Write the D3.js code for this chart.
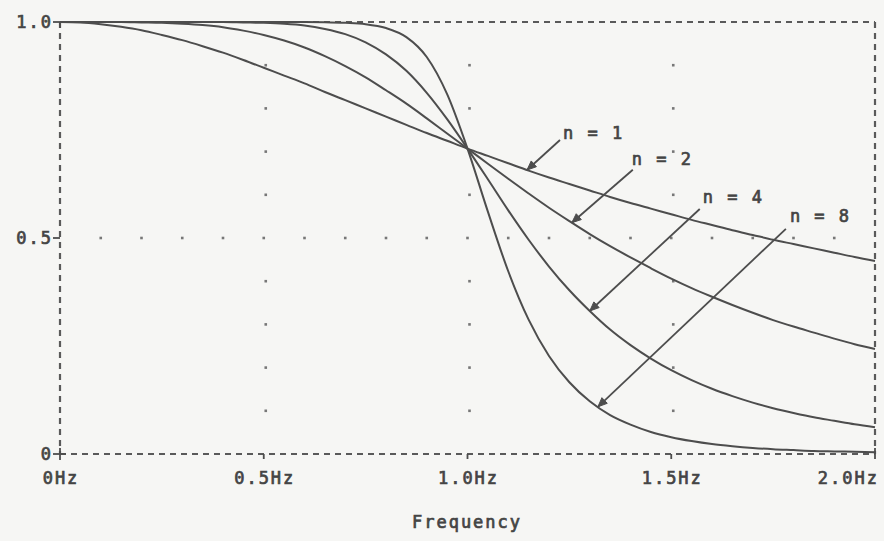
<!DOCTYPE html>
<html>
<head>
<meta charset="utf-8">
<script src="https://cdn.jsdelivr.net/npm/d3@7"></script>
<style>
  html, body { margin: 0; padding: 0; background: #f6f6f4; }
  svg { display: block; }
  text { font-family: "DejaVu Sans Mono", "Liberation Mono", monospace; fill: #444; }
</style>
</head>
<body>
<svg id="chart" width="884" height="541"></svg>
<script>
// Frequency samples (Hz)
const freqs = [0, 0.05, 0.1, 0.15, 0.2, 0.25, 0.3, 0.35, 0.4, 0.45, 0.5, 0.55, 0.6, 0.65, 0.7, 0.75, 0.8, 0.85, 0.9, 0.95,
  1.0, 1.05, 1.1, 1.15, 1.2, 1.25, 1.3, 1.35, 1.4, 1.45, 1.5, 1.55, 1.6, 1.65, 1.7, 1.75, 1.8, 1.85, 1.9, 1.95, 2.0];

// Magnitude response for each filter order
const gainN1 = [1, 0.999, 0.995, 0.989, 0.981, 0.970, 0.958, 0.944, 0.929, 0.912, 0.894, 0.876, 0.858, 0.838, 0.819, 0.800, 0.781, 0.762, 0.743, 0.725,
  0.707, 0.690, 0.673, 0.656, 0.640, 0.625, 0.610, 0.595, 0.581, 0.568, 0.555, 0.542, 0.530, 0.518, 0.507, 0.496, 0.486, 0.476, 0.466, 0.456, 0.447];
const gainN2 = [1, 1, 1, 1, 0.999, 0.998, 0.996, 0.993, 0.988, 0.980, 0.970, 0.957, 0.941, 0.921, 0.898, 0.872, 0.842, 0.811, 0.777, 0.742,
  0.707, 0.672, 0.637, 0.603, 0.570, 0.539, 0.509, 0.481, 0.455, 0.430, 0.406, 0.384, 0.364, 0.345, 0.327, 0.310, 0.295, 0.281, 0.267, 0.254, 0.243];
const gainN4 = [1, 1, 1, 1, 1, 1, 1, 1, 1, 0.999, 0.998, 0.996, 0.992, 0.984, 0.972, 0.953, 0.925, 0.887, 0.836, 0.775,
  0.707, 0.636, 0.564, 0.496, 0.434, 0.379, 0.331, 0.288, 0.252, 0.221, 0.194, 0.171, 0.151, 0.134, 0.119, 0.106, 0.095, 0.085, 0.077, 0.069, 0.062];
const gainN8 = [1, 1, 1, 1, 1, 1, 1, 1, 1, 1, 1, 1, 1, 0.9995, 0.998, 0.995, 0.986, 0.965, 0.919, 0.833,
  0.707, 0.561, 0.423, 0.311, 0.227, 0.166, 0.122, 0.090, 0.068, 0.051, 0.039, 0.030, 0.023, 0.018, 0.014, 0.011, 0.009, 0.007, 0.006, 0.005, 0.004];

const seriesNames = ["n = 1", "n = 2", "n = 4", "n = 8"];
const seriesValues = [gainN1, gainN2, gainN4, gainN8];

// Tick labels
const xTicks = [0, 0.5, 1.0, 1.5, 2.0];
const xTickLabels = ["0Hz", "0.5Hz", "1.0Hz", "1.5Hz", "2.0Hz"];
const yTicks = [0, 0.5, 1.0];
const yTickLabels = ["0", "0.5", "1.0"];
const xTitle = "Frequency";

// Frequency at which each label's arrow touches its curve
const arrowTipFreqs = [1.146, 1.256, 1.30, 1.32];

// ---- drawing ----
const svg = d3.select("#chart");
const ink = "#4d4d4d";
const textStroke = 0.7;

const x = d3.scaleLinear().domain([0, 2]).range([60, 875]);
const y = d3.scaleLinear().domain([0, 1]).range([454, 22]);

// dotted guide grid: one row at 0.5, columns at every 0.5 Hz
const grid = svg.append("g").attr("fill", "#777");
const dot = 2.6;
d3.range(1, 20).forEach(i => {
  grid.append("rect").attr("x", x(i / 10) - dot / 2).attr("y", y(0.5) - dot / 2).attr("width", dot).attr("height", dot);
});
[0.5, 1.0, 1.5].forEach(f => {
  d3.range(1, 10).forEach(j => {
    if (j === 5) return;
    grid.append("rect").attr("x", x(f) + 2 - dot / 2).attr("y", y(j / 10) - dot / 2).attr("width", dot).attr("height", dot);
  });
});

// dashed frame
const frame = svg.append("g").attr("stroke", "#5a5a5a").attr("stroke-width", 2.2).attr("stroke-dasharray", "6,5").attr("fill", "none");
frame.append("line").attr("x1", x(0)).attr("x2", x(2)).attr("y1", y(1)).attr("y2", y(1));
frame.append("line").attr("x1", x(0)).attr("x2", x(2)).attr("y1", y(0)).attr("y2", y(0));
frame.append("line").attr("x1", x(0)).attr("x2", x(0)).attr("y1", y(1)).attr("y2", y(0));
frame.append("line").attr("x1", x(2)).attr("x2", x(2)).attr("y1", y(1)).attr("y2", y(0));

// ticks
const ticks = svg.append("g").attr("stroke", ink).attr("stroke-width", 1.8);
yTicks.forEach(v => {
  ticks.append("line").attr("x1", x(0) - 7).attr("x2", x(0)).attr("y1", y(v)).attr("y2", y(v));
});
ticks.append("line").attr("x1", x(0)).attr("x2", x(0) + 6).attr("y1", y(0)).attr("y2", y(0));
ticks.append("line").attr("x1", x(0)).attr("x2", x(0)).attr("y1", y(0) - 6).attr("y2", y(0) + 6);
ticks.append("line").attr("x1", x(0)).attr("x2", x(0)).attr("y1", y(1)).attr("y2", y(1) + 6);
xTicks.slice(1).forEach(f => {
  ticks.append("line").attr("x1", x(f)).attr("x2", x(f)).attr("y1", y(0)).attr("y2", y(0) + 5);
});
ticks.append("line").attr("x1", x(2)).attr("x2", x(2)).attr("y1", y(0) - 6).attr("y2", y(0));

// axis labels
const labelFont = { size: 17, spacing: 2 };
yTicks.forEach((v, i) => {
  svg.append("text")
    .attr("x", 53).attr("y", y(v) + 6)
    .attr("text-anchor", "end")
    .attr("font-size", labelFont.size).attr("letter-spacing", labelFont.spacing)
    .attr("stroke", "#444").attr("stroke-width", textStroke)
    .text(yTickLabels[i]);
});
xTicks.forEach((f, i) => {
  const last = i === xTicks.length - 1;
  svg.append("text")
    .attr("x", last ? x(f) + 4 : x(f) + 1).attr("y", 484)
    .attr("text-anchor", last ? "end" : "middle")
    .attr("font-size", labelFont.size).attr("letter-spacing", labelFont.spacing)
    .attr("stroke", "#444").attr("stroke-width", textStroke)
    .text(xTickLabels[i]);
});
svg.append("text")
  .attr("x", 467).attr("y", 528)
  .attr("text-anchor", "middle")
  .attr("font-size", labelFont.size).attr("letter-spacing", labelFont.spacing)
  .attr("stroke", "#444").attr("stroke-width", textStroke)
  .text(xTitle);

// response curves
const line = d3.line()
  .x((d, i) => x(freqs[i]))
  .y(d => y(d))
  .curve(d3.curveMonotoneX);
svg.append("g").selectAll("path")
  .data(seriesValues)
  .join("path")
  .attr("d", line)
  .attr("fill", "none")
  .attr("stroke", ink)
  .attr("stroke-width", 2);

// labelled arrows pointing at each curve
const arrowOffsets = [[33, -30], [61, -53], [110, -102], [188, -178]];
const labelOffsets = [[3, -1], [-1, -5], [3, -6], [4, -7]];
const ann = svg.append("g");
seriesValues.forEach((vals, k) => {
  const f = arrowTipFreqs[k];
  const v = d3.scaleLinear().domain(freqs).range(vals)(f);
  const tx = x(f), ty = y(v);
  const sx = tx + arrowOffsets[k][0], sy = ty + arrowOffsets[k][1];
  ann.append("line").attr("x1", sx).attr("y1", sy).attr("x2", tx).attr("y2", ty)
    .attr("stroke", ink).attr("stroke-width", 1.8);
  const ang = Math.atan2(ty - sy, tx - sx);
  const len = 10, spread = 0.4;
  const p1 = [tx - len * Math.cos(ang - spread), ty - len * Math.sin(ang - spread)];
  const p2 = [tx - len * Math.cos(ang + spread), ty - len * Math.sin(ang + spread)];
  ann.append("path")
    .attr("d", `M${p1[0]},${p1[1]}L${tx},${ty}L${p2[0]},${p2[1]}Z`)
    .attr("fill", ink).attr("stroke", ink).attr("stroke-width", 1);
  ann.append("text")
    .attr("x", sx + labelOffsets[k][0]).attr("y", sy + labelOffsets[k][1])
    .attr("font-size", labelFont.size).attr("letter-spacing", labelFont.spacing)
    .attr("stroke", "#444").attr("stroke-width", textStroke)
    .text(seriesNames[k]);
});
</script>
</body>
</html>
